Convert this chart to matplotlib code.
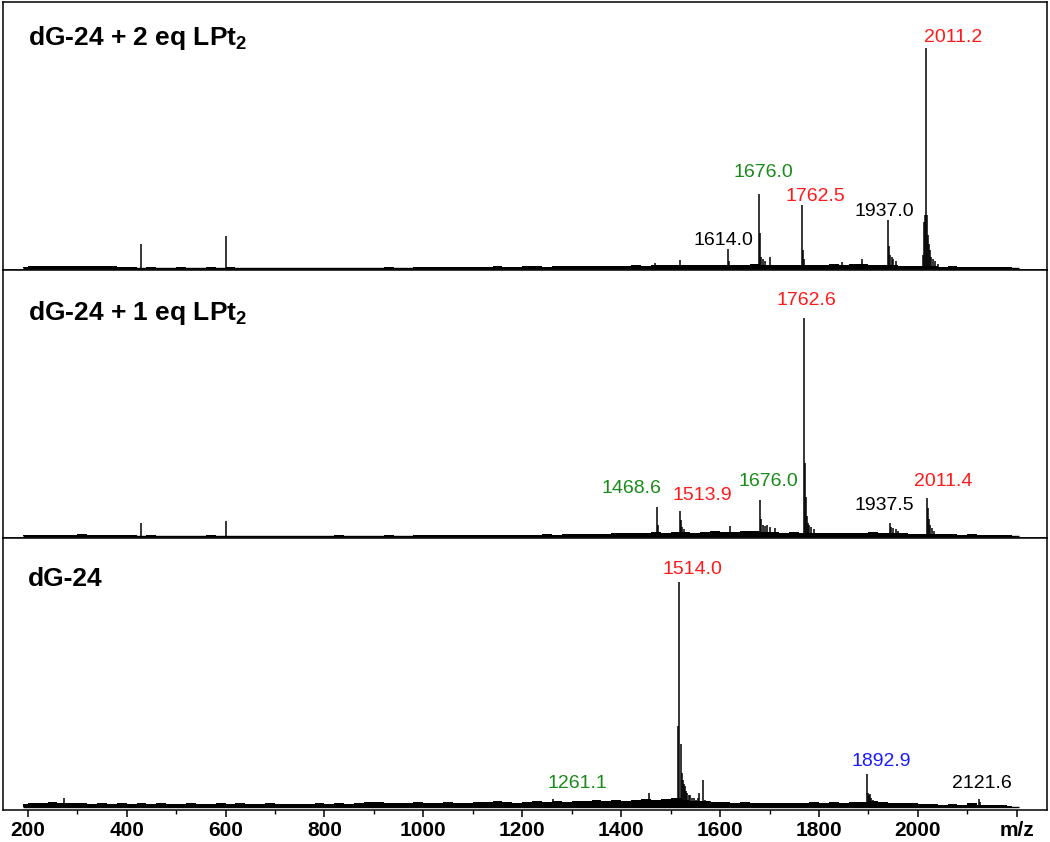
import numpy as np
import matplotlib
matplotlib.use("Agg")
import matplotlib.pyplot as plt
from matplotlib.ticker import FixedLocator, MultipleLocator

plt.rcParams["font.family"] = ["Liberation Sans", "DejaVu Sans"]
plt.rcParams["mathtext.fontset"] = "custom"
plt.rcParams["mathtext.rm"] = "Liberation Sans"
plt.rcParams["mathtext.bf"] = "Liberation Sans:bold"

# ---- data (intensity in % of the panel's base peak) ----
titles = [r"dG-24 + 2 eq LPt$_\mathbf{2}$", r"dG-24 + 1 eq LPt$_\mathbf{2}$", "dG-24"]

top_mz = [430, 601, 1469, 1518, 1615.5, 1617, 1678, 1680.5, 1683, 1686, 1690, 1701,
          1766, 1768, 1770, 1847, 1886, 1940, 1942, 1944, 1947, 1950, 1955,
          2011, 2013, 2015, 2016.6, 2018, 2020, 2022, 2024, 2027, 2030, 2035, 2040]
top_int = [10.7, 14.5, 2.5, 3.6, 8.6, 3.0, 33.6, 16.0, 5.0, 4.0, 3.0, 5.0,
           28.6, 8.0, 4.0, 2.7, 4.0, 21.8, 10.0, 6.0, 5.0, 4.0, 3.0,
           6.0, 21.0, 24.0, 100.0, 24.0, 15.0, 11.0, 8.0, 5.0, 4.0, 3.0, 2.0]

mid_mz = [430, 601, 1473, 1475, 1518.5, 1520, 1523, 1526, 1620, 1622, 1681, 1683, 1687,
          1690, 1695, 1700, 1710, 1769, 1771, 1773, 1775, 1777, 1780, 1784, 1790,
          1944, 1946, 1950, 1955, 1960, 2019, 2021, 2023, 2025, 2028, 2032]
mid_int = [6.0, 6.9, 13.3, 5.0, 11.5, 7.3, 4.0, 3.0, 4.6, 2.0, 16.5, 8.0, 5.0,
           4.6, 5.0, 4.0, 3.7, 100.0, 33.5, 18.0, 9.0, 6.0, 5.0, 4.0, 3.0,
           6.0, 4.0, 3.5, 3.0, 2.5, 17.4, 12.8, 8.0, 5.0, 3.5, 2.5]

bot_mz = [273, 1262, 1456, 1515, 1517.7, 1520.5, 1523, 1525, 1527, 1529, 1531, 1534,
          1537, 1540, 1543, 1547, 1551, 1555, 1558, 1566, 1570, 1580,
          1897, 1899, 1901, 1903, 1906, 1909, 1913, 1918, 2124, 2126]
bot_int = [4.0, 3.5, 6.0, 36.0, 100.0, 28.0, 15.0, 12.0, 10.0, 9.0, 7.0, 6.0,
           5.0, 5.0, 4.0, 4.0, 3.0, 4.0, 6.0, 12.0, 3.0, 2.5,
           14.7, 6.0, 5.0, 5.5, 4.0, 3.0, 2.5, 2.0, 3.5, 2.0]

# baseline grass, one value every 20 m/z from 190 to 2190
noise_mz = list(range(190, 2200, 20))
top_noise = [
    0.6, 0.8, 0.7, 0.9, 1.0, 0.8, 1.1, 0.9, 0.7, 0.8, 0.6,
    0.5, 0.0, 0.4, 0.0, 0.0, 0.3, 0.0, 0.0, 0.3, 0.0,
    0.3, 0.0, 0.0, 0.0, 0.0, 0.0, 0.2, 0.0, 0.0, 0.2, 0.0, 0.0, 0.0, 0.0, 0.0, 0.0, 0.3, 0.0, 0.0, 0.4,
    0.5, 0.3, 0.6, 0.5, 0.4, 0.6, 0.5, 0.7, 0.6, 0.5, 0.7, 0.8, 0.6, 0.7, 0.9, 0.8, 0.7, 1.0, 0.9, 1.1,
    1.0, 1.2, 1.0, 1.6, 1.4, 1.5, 1.3, 1.2, 1.6, 1.4, 1.5, 1.3, 1.2, 1.8, 1.5, 1.4, 1.3, 1.6, 1.2, 1.5,
    1.4, 1.7, 1.5, 1.8, 2.0, 1.6, 1.5, 1.3, 1.1, 0.9, 0.8, 0.7, 0.6, 0.7, 0.5, 0.6, 0.4, 0.5, 0.4, 0.3,
]
mid_noise = [
    0.5, 0.6, 0.5, 0.7, 0.6, 0.5, 0.8, 0.6, 0.5, 0.6, 0.4,
    0.3, 0.0, 0.3, 0.0, 0.0, 0.2, 0.0, 0.0, 0.3, 0.0,
    0.2, 0.0, 0.0, 0.0, 0.2, 0.0, 0.0, 0.0, 0.2, 0.0, 0.0, 0.3, 0.0, 0.0, 0.2, 0.0, 0.3, 0.0, 0.0, 0.4,
    0.4, 0.3, 0.5, 0.4, 0.5, 0.6, 0.4, 0.6, 0.5, 0.6, 0.7, 0.6, 0.8, 0.7, 0.9, 0.8, 1.0, 1.1, 0.9, 1.2,
    1.4, 1.6, 1.3, 1.8, 1.5, 2.0, 1.7, 1.6, 1.9, 2.2, 2.0, 1.8, 2.4, 2.1, 1.9, 1.7, 1.6, 1.8, 1.5, 1.4,
    1.3, 1.5, 1.2, 1.4, 1.6, 2.0, 1.4, 1.3, 1.2, 1.1, 1.0, 0.9, 0.8, 0.9, 0.7, 0.8, 0.6, 0.7, 0.5, 0.4,
]
bot_noise = [
    1.2, 1.5, 1.8, 2.0, 1.6, 1.4, 1.7, 1.3, 1.5, 1.2, 1.4,
    1.3, 1.6, 1.2, 1.4, 1.1, 1.3, 1.5, 1.2, 1.0, 1.4,
    1.2, 1.5, 1.1, 1.3, 1.6, 1.2, 1.0, 1.3, 1.1, 1.4, 1.2, 1.5, 1.3, 1.7, 1.9, 2.2, 1.8, 1.6, 1.4, 1.9,
    1.7, 1.5, 2.0, 1.8, 1.6, 2.1, 1.9, 2.3, 2.0, 1.8, 2.2, 2.5, 2.1, 2.4, 2.0, 2.6, 2.3, 2.8, 2.4, 3.0,
    2.6, 2.9, 3.2, 2.8, 3.5, 4.0, 3.0, 2.6, 2.4, 2.2, 2.0, 1.8, 1.9, 1.7, 1.6, 1.8, 1.5, 1.7, 1.6, 1.9,
    1.8, 2.0, 1.7, 1.9, 2.2, 2.5, 2.0, 1.8, 1.6, 1.4, 1.2, 1.0, 0.9, 1.0, 0.8, 1.4, 0.9, 0.7, 0.6, 0.5,
]

# peak labels
top_labels = ["2011.2", "1676.0", "1762.5", "1937.0", "1614.0"]
top_label_colors = ["red", "green", "red", "black", "black"]
mid_labels = ["1762.6", "1468.6", "1513.9", "1676.0", "1937.5", "2011.4"]
mid_label_colors = ["red", "green", "red", "green", "black", "red"]
bot_labels = ["1514.0", "1892.9", "2121.6", "1261.1"]
bot_label_colors = ["red", "blue", "black", "green"]

# label anchor positions (data coords)
top_label_pos = [(2071, 105), (1687, 43.3), (1792, 32.7), (1932, 25.9), (1607, 12.7)]
mid_label_pos = [(1774, 108), (1421, 21.6), (1564, 18.8), (1697, 24.9), (1932, 13.8), (2051, 25.2)]
bot_label_pos = [(1545, 105.2), (1926, 19.9), (2130, 10.1), (1311, 10.1)]

panels = [
    (top_mz, top_int, top_noise, top_labels, top_label_colors, top_label_pos, (-0.9, 121), 0.8396),
    (mid_mz, mid_int, mid_noise, mid_labels, mid_label_colors, mid_label_pos, (-0.9, 122), 0.815),
    (bot_mz, bot_int, bot_noise, bot_labels, bot_label_colors, bot_label_pos, (-1.5, 119.4), 0.8235),
]

W, H = 1050, 842
fig = plt.figure(figsize=(W / 100, H / 100), dpi=100)
colmap = {"red": "#ff1a1a", "green": "#1a8a1a", "blue": "#1a1aff", "black": "black"}

edges = [(2, 270), (270, 538), (538, 810)]
axes = []
for (top_px, bot_px), (mz, inten, noise, labels, lcols, lpos, ylim, ty), title in zip(edges, panels, titles):
    ax = fig.add_axes([3 / W, 1 - bot_px / H, 1044 / W, (bot_px - top_px) / H])
    ax.hlines(0, 190, 2205, color="black", lw=1.0)
    ax.fill_between(noise_mz, 0, noise, step="mid", color="black", lw=0)
    ax.vlines(mz, 0, inten, color="black", lw=1.1)
    ax.set_xlim(150, 2261)
    ax.set_ylim(*ylim)
    ax.set_yticks([])
    for s in ax.spines.values():
        s.set_linewidth(1.1)
    for text, c, (x, y) in zip(labels, lcols, lpos):
        ax.text(x, y, text, color=colmap[c], fontsize=14, ha="center", va="center")
    ax.text(25 / 1044, ty, title, transform=ax.transAxes, fontsize=19,
            fontweight="bold", ha="left", va="baseline")
    axes.append(ax)

for ax in axes[:2]:
    ax.set_xticks([])

ax = axes[-1]
ax.xaxis.set_major_locator(FixedLocator(list(range(200, 2201, 200))))
ax.xaxis.set_minor_locator(MultipleLocator(100))
ax.set_xticklabels([str(v) for v in range(200, 2001, 200)] + ["m/z"])
ax.tick_params(axis="x", which="major", length=5, width=1.1, pad=3, labelsize=15)
ax.tick_params(axis="x", which="minor", length=3, width=1.0)
for lab in ax.get_xticklabels():
    lab.set_fontweight("bold")

fig.savefig("out.png", dpi=100)
